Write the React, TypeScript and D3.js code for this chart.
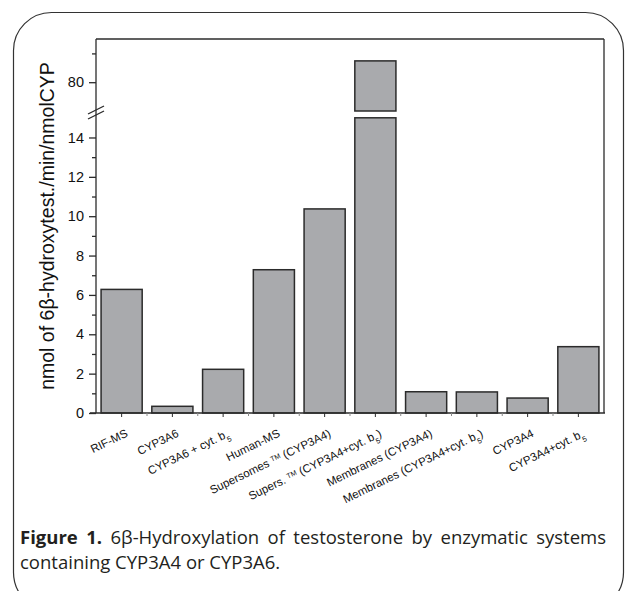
import * as d3 from "d3";
import { useEffect, useRef } from "react";

// category labels: "_5" = subscript 5, "^TM" = trademark
const categories = [
  "RIF-MS",
  "CYP3A6",
  "CYP3A6 + cyt. b_5",
  "Human-MS",
  "Supersomes ^TM (CYP3A4)",
  "Supers. ^TM (CYP3A4+cyt. b_5)",
  "Membranes (CYP3A4)",
  "Membranes (CYP3A4+cyt. b_5)",
  "CYP3A4",
  "CYP3A4+cyt. b_5",
];
const values = [6.28, 0.34, 2.22, 7.28, 10.37, 83.7, 1.08, 1.07, 0.76, 3.37];

const lowerDomain = [0, 15];
const upperDomain = [75, 87.5];
const lowerTicks = [0, 2, 4, 6, 8, 10, 12, 14];
const lowerMinor = [1, 3, 5, 7, 9, 11, 13];
const upperTicks = [80];
const upperMinor = [85];

const yTitle = "nmol of 6β-hydroxytest./min/nmolCYP";
const captionLine1 = [
  { t: "Figure", b: true },
  { t: "1.", b: true },
  { t: "6β-Hydroxylation", b: false },
  { t: "of", b: false },
  { t: "testosterone", b: false },
  { t: "by", b: false },
  { t: "enzymatic", b: false },
  { t: "systems", b: false },
];
const captionLine2 = "containing CYP3A4 or CYP3A6.";

const W = 626;
const H = 591;

const App = () => {
  const ref = useRef(null);

  useEffect(() => {
    const svg = d3.select(ref.current);
    svg.selectAll("*").remove();

    const margin = { left: 96, right: 604, top: 39, bottom: 413 };
    const ink = "#2b2b2b";

    // rounded outer frame
    svg.append("rect")
      .attr("x", 13.5).attr("y", 12.5)
      .attr("width", 610).attr("height", 598)
      .attr("rx", 38).attr("ry", 38)
      .attr("fill", "none").attr("stroke", "#333").attr("stroke-width", 1.2);

    const x = d3.scaleBand()
      .domain(categories)
      .range([margin.left, margin.right])
      .paddingInner(0.19)
      .paddingOuter(0.1);
    const yLow = d3.scaleLinear().domain(lowerDomain).range([margin.bottom, 117.8]);
    const yHigh = d3.scaleLinear().domain(upperDomain).range([111, margin.top]);

    const data = categories.map((c, i) => ({ c, v: values[i] }));

    // bars
    const bars = svg.append("g")
      .attr("fill", "#a9aaad").attr("stroke", ink).attr("stroke-width", 1.5);
    bars.selectAll(".low").data(data).enter().append("rect")
      .attr("x", d => x(d.c))
      .attr("y", d => yLow(Math.min(d.v, lowerDomain[1])))
      .attr("width", x.bandwidth())
      .attr("height", d => yLow(0) - yLow(Math.min(d.v, lowerDomain[1])));
    bars.selectAll(".high").data(data.filter(d => d.v > upperDomain[0])).enter().append("rect")
      .attr("x", d => x(d.c))
      .attr("y", d => yHigh(d.v))
      .attr("width", x.bandwidth())
      .attr("height", d => yHigh(upperDomain[0]) - yHigh(d.v));

    // frame lines
    const frame = svg.append("g").attr("stroke", ink).attr("stroke-width", 1.3).attr("fill", "none");
    frame.append("line").attr("x1", margin.left).attr("x2", margin.left).attr("y1", margin.top).attr("y2", margin.bottom);
    frame.append("line").attr("x1", margin.left).attr("x2", margin.right).attr("y1", margin.top).attr("y2", margin.top);
    frame.append("line").attr("x1", margin.right).attr("x2", margin.right).attr("y1", margin.top).attr("y2", margin.bottom);
    frame.append("line").attr("x1", margin.left - 6).attr("x2", margin.right + 1).attr("y1", margin.bottom).attr("y2", margin.bottom);

    // y axes
    const styleAxis = (g) => {
      g.select(".domain").remove();
      g.selectAll("line").attr("stroke", ink).attr("stroke-width", 1.3);
      g.selectAll("text")
        .attr("fill", "#111")
        .style("font-family", "'Liberation Sans', Arial, sans-serif")
        .style("font-size", "14.5px");
    };
    svg.append("g").attr("transform", `translate(${margin.left},0)`)
      .call(d3.axisLeft(yLow).tickValues(lowerTicks).tickSize(7).tickPadding(5).tickFormat(d3.format("d")))
      .call(styleAxis);
    svg.append("g").attr("transform", `translate(${margin.left},0)`)
      .call(d3.axisLeft(yLow).tickValues(lowerMinor).tickSize(4).tickFormat(() => ""))
      .call(styleAxis);
    svg.append("g").attr("transform", `translate(${margin.left},0)`)
      .call(d3.axisLeft(yHigh).tickValues(upperTicks).tickSize(7).tickPadding(5).tickFormat(d3.format("d")))
      .call(styleAxis);
    svg.append("g").attr("transform", `translate(${margin.left},0)`)
      .call(d3.axisLeft(yHigh).tickValues(upperMinor).tickSize(4).tickFormat(() => ""))
      .call(styleAxis);

    // axis break marks
    const brk = svg.append("g").attr("stroke", ink).attr("stroke-width", 1.3);
    [0, 5].forEach(off => {
      brk.append("line")
        .attr("x1", margin.left - 8).attr("y1", 119 - off)
        .attr("x2", margin.left + 8).attr("y2", 111 - off);
    });

    // x axis ticks
    svg.append("g").attr("transform", `translate(0,${margin.bottom})`)
      .call(d3.axisBottom(x).tickSize(4).tickSizeOuter(0).tickFormat(() => ""))
      .call(g => {
        g.select(".domain").remove();
        g.selectAll("line").attr("stroke", ink).attr("stroke-width", 1);
      });
    const gap = (x.step() - x.bandwidth()) / 2;
    svg.append("g").selectAll("line").data(categories.slice(1)).enter().append("line")
      .attr("x1", d => x(d) - gap).attr("x2", d => x(d) - gap)
      .attr("y1", margin.bottom).attr("y2", margin.bottom + 3)
      .attr("stroke", "#888").attr("stroke-width", 1);

    // x labels
    const labels = svg.append("g")
      .style("font-family", "'Liberation Sans', Arial, sans-serif")
      .style("font-size", "11.5px")
      .attr("fill", "#111");
    categories.forEach(c => {
      const t = labels.append("text")
        .attr("text-anchor", "end")
        .attr("transform", `translate(${x(c) + x.bandwidth() / 2 + 7},${margin.bottom + 23}) rotate(-26)`);
      c.split(/(_\d|\^TM)/).filter(s => s.length).forEach(s => {
        if (s.startsWith("_")) {
          t.append("tspan").attr("font-size", "7.5px").attr("baseline-shift", "sub").text(s.slice(1));
        } else if (s === "^TM") {
          t.append("tspan").attr("font-size", "7px").attr("baseline-shift", "super").text("TM");
        } else {
          t.append("tspan").text(s);
        }
      });
    });

    // y title
    svg.append("text")
      .attr("transform", `translate(54,226) rotate(-90)`)
      .attr("text-anchor", "middle")
      .style("font-family", "'Liberation Sans', Arial, sans-serif")
      .style("font-size", "19.5px")
      .attr("fill", "#111")
      .text(yTitle);

    // caption, first line justified
    const cap = svg.append("g")
      .style("font-family", "'Open Sans', sans-serif")
      .style("font-size", "18.5px")
      .attr("fill", "#231f20");
    const words = captionLine1.map(w =>
      cap.append("text")
        .attr("y", 544)
        .attr("font-weight", w.b ? 700 : 400)
        .text(w.t)
    );
    const widths = words.map(w => w.node().getComputedTextLength());
    const left = 20;
    const right = 606;
    const space = (right - left - d3.sum(widths)) / (words.length - 1);
    let cx = left;
    words.forEach((w, i) => {
      w.attr("x", cx);
      cx += widths[i] + space;
    });
    cap.append("text").attr("x", left).attr("y", 569).text(captionLine2);
  }, []);

  return (
    <svg
      ref={ref}
      width={W}
      height={H}
      style={{ position: "absolute", left: 0, top: 0, background: "#fff" }}
    />
  );
};

export default App;
